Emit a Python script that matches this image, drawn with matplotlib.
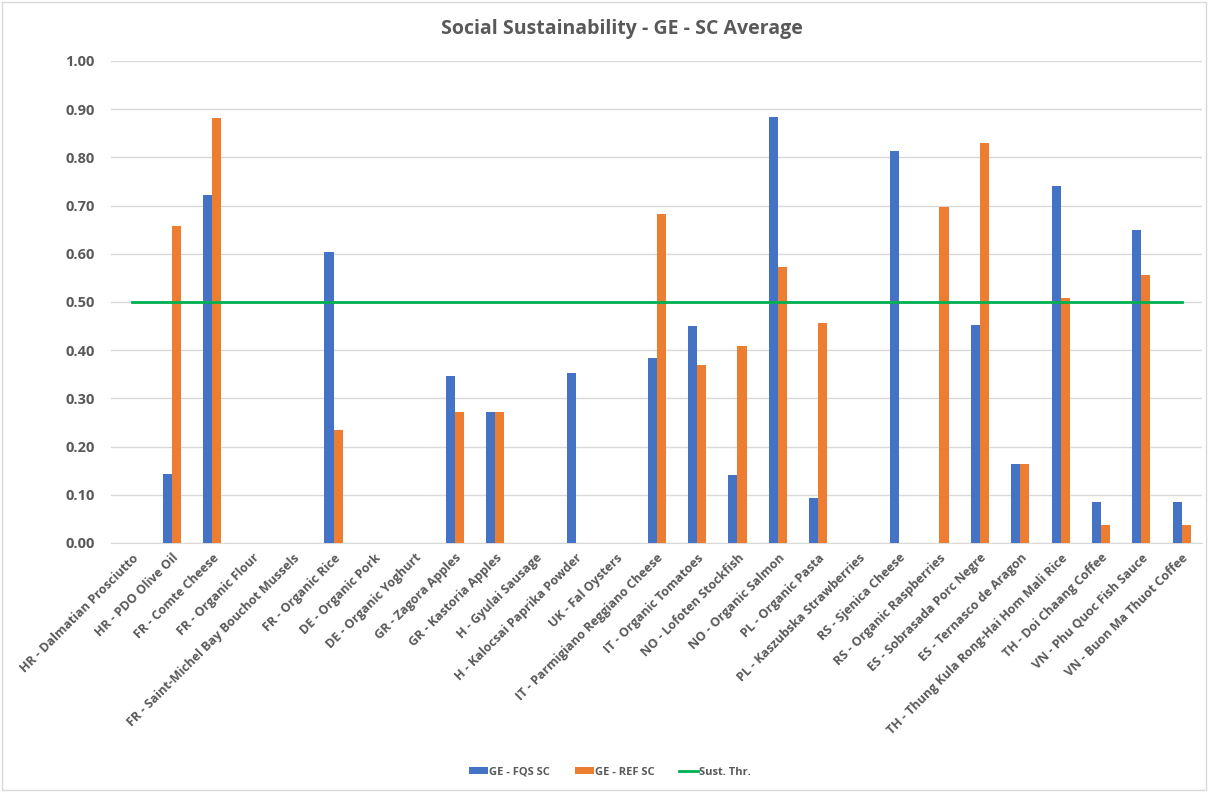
import matplotlib
matplotlib.use("Agg")
from matplotlib import pyplot as plt
from matplotlib.patches import Rectangle
import numpy as np

# Chart data
products = [
    "HR - Dalmatian Prosciutto", "HR - PDO Olive Oil", "FR - Comte Cheese",
    "FR - Organic Flour", "FR - Saint-Michel Bay Bouchot Mussels",
    "FR - Organic Rice", "DE - Organic Pork", "DE - Organic Yoghurt",
    "GR - Zagora Apples", "GR - Kastoria Apples", "H - Gyulai Sausage",
    "H - Kalocsai Paprika Powder", "UK - Fal Oysters",
    "IT - Parmigiano Reggiano Cheese", "IT - Organic Tomatoes",
    "NO - Lofoten Stockfish", "NO - Organic Salmon", "PL - Organic Pasta",
    "PL - Kaszubska Strawberries", "RS - Sjenica Cheese",
    "RS - Organic Raspberries", "ES - Sobrasada Porc Negre",
    "ES - Ternasco de Aragon", "TH - Thung Kula Rong-Hai Hom Mali Rice",
    "TH - Doi Chaang Coffee", "VN - Phu Quoc Fish Sauce",
    "VN - Buon Ma Thuot Coffee",
]
fqs_sc = [0, 0.144, 0.722, 0, 0, 0.604, 0, 0, 0.346, 0.272, 0, 0.353, 0,
          0.384, 0.450, 0.141, 0.884, 0.093, 0, 0.813, 0, 0.452, 0.163,
          0.740, 0.085, 0.649, 0.085]
ref_sc = [0, 0.657, 0.882, 0, 0, 0.234, 0, 0, 0.272, 0.272, 0, 0, 0,
          0.683, 0.369, 0.409, 0.573, 0.456, 0, 0, 0.697, 0.830, 0.163,
          0.508, 0.038, 0.556, 0.038]
threshold = [0.5] * len(products)

plt.rcParams['font.family'] = ['Open Sans', 'DejaVu Sans']
grey = "#595959"

fig = plt.figure(figsize=(12.08, 7.92), dpi=100)
ax = fig.add_axes([0.0922, 0.3144, 0.9028, 0.6086])

x = np.arange(len(products))
w = 0.225
b1 = ax.bar(x - w / 2, fqs_sc, width=w, color="#4472C4", label="GE - FQS SC", zorder=3)
b2 = ax.bar(x + w / 2, ref_sc, width=w, color="#ED7D31", label="GE - REF SC", zorder=3)
l1, = ax.plot(x, threshold, color="#00B050", linewidth=2, label="Sust. Thr.", zorder=4)

ax.set_xlim(-0.5, len(products) - 0.5)
ax.set_ylim(0, 1.0)
ax.set_yticks(np.arange(0, 1.01, 0.1))
ax.set_yticklabels(["%.2f" % v for v in np.arange(0, 1.01, 0.1)],
                   fontsize=10.5, fontweight="bold", color=grey)
ax.set_xticks(x)
ax.set_xticklabels(products, rotation=45, ha="right", rotation_mode="anchor",
                   fontsize=9, fontweight="bold", color=grey)
ax.tick_params(axis="both", length=0)
ax.tick_params(axis="y", pad=12)
ax.tick_params(axis="x", pad=6)
ax.grid(axis="y", color="#D9D9D9", linewidth=1, zorder=0)
for s in ["top", "right", "left"]:
    ax.spines[s].set_visible(False)
ax.spines["bottom"].set_color("#D9D9D9")

fig.text(0.515, 0.963, "Social Sustainability - GE - SC Average", ha="center",
         va="center", fontsize=14, fontweight="bold", color=grey)

fig.legend([b1, b2, l1], ["GE - FQS SC", "GE - REF SC", "Sust. Thr."],
           loc="center", bbox_to_anchor=(0.505, 0.025), ncol=3, frameon=False,
           handlelength=1.7, handleheight=0.55, columnspacing=2.2,
           handletextpad=0.1, labelcolor=grey, prop={'weight': 'bold', 'size': 8})

# Chart border
fig.patches.append(Rectangle((0.002, 0.002), 0.996, 0.996, transform=fig.transFigure,
                             fill=False, edgecolor="#D9D9D9", linewidth=1))

fig.savefig("out.png", dpi=100)
